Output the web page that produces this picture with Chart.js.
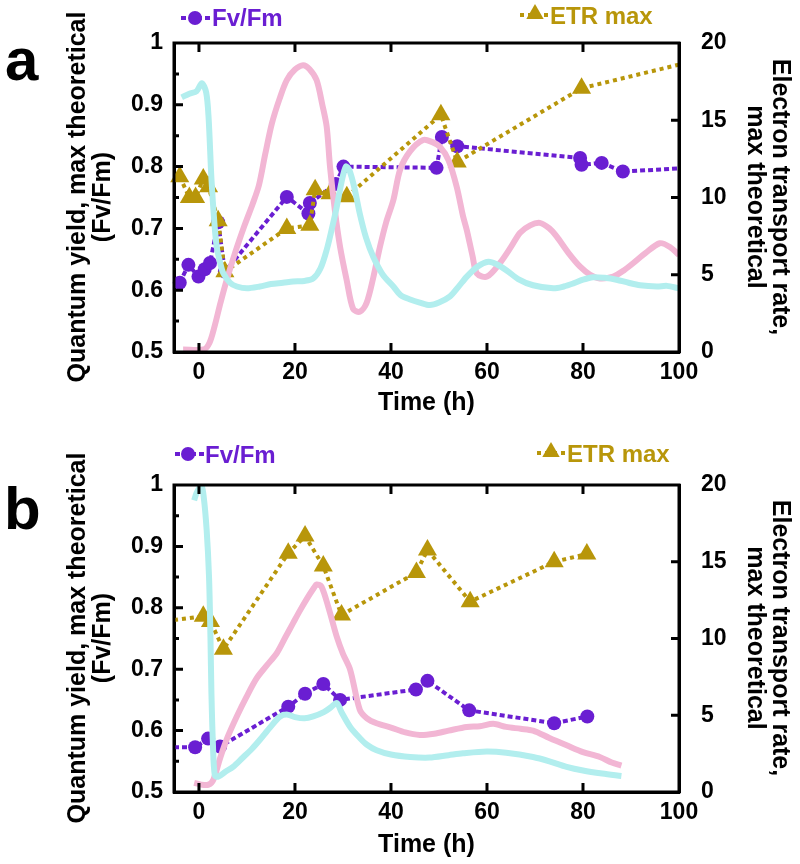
<!DOCTYPE html>
<html><head><meta charset="utf-8">
<script src="https://cdn.jsdelivr.net/npm/chart.js@4.4.0/dist/chart.umd.min.js"></script>
<style>
html,body{margin:0;padding:0;background:#fff;}
#wrap{position:relative;width:800px;height:864px;overflow:hidden;font-family:"Liberation Sans",Arial,sans-serif;font-weight:bold;}
.cv{position:absolute;left:0;width:800px;height:432px;}
.lbl{position:absolute;font-size:60px;line-height:60px;color:#000;}
.leg{position:absolute;font-size:24px;line-height:24px;white-space:nowrap;}
.sym{position:absolute;}
.yt{position:absolute;width:440px;height:50px;font-size:25px;line-height:25px;text-align:center;color:#000;white-space:nowrap;}
</style></head>
<body>
<div id="wrap">
  <div class="cv" style="top:0"><canvas id="cA" width="800" height="432"></canvas></div>
  <div class="cv" style="top:432px"><canvas id="cB" width="800" height="432"></canvas></div>

  <div class="lbl" style="left:5px;top:30px">a</div>
  <div class="lbl" style="left:4px;top:479px">b</div>

  <svg class="sym" style="left:181px;top:10px" width="30" height="16"><line x1="0" y1="8" x2="30" y2="8" stroke="#6a1ed2" stroke-width="4" stroke-dasharray="5 3"/><circle cx="14" cy="8" r="7" fill="#6a1ed2"/></svg>
  <div class="leg" style="left:212px;top:6px;color:#6a1ed2">Fv/Fm</div>
  <svg class="sym" style="left:520px;top:1px" width="30" height="22"><line x1="0" y1="14" x2="30" y2="14" stroke="#b8960a" stroke-width="4" stroke-dasharray="4 4"/><polygon points="15,3 23.7,18 6.3,18" fill="#b8960a"/></svg>
  <div class="leg" style="left:550px;top:4px;color:#b8960a">ETR max</div>

  <svg class="sym" style="left:175px;top:446px" width="30" height="16"><line x1="0" y1="8" x2="30" y2="8" stroke="#6a1ed2" stroke-width="4" stroke-dasharray="5 3"/><circle cx="13" cy="8" r="7" fill="#6a1ed2"/></svg>
  <div class="leg" style="left:205px;top:443px;color:#6a1ed2">Fv/Fm</div>
  <svg class="sym" style="left:537px;top:439px" width="30" height="22"><line x1="0" y1="14" x2="30" y2="14" stroke="#b8960a" stroke-width="4" stroke-dasharray="4 4"/><polygon points="14,3 22.7,18 5.3,18" fill="#b8960a"/></svg>
  <div class="leg" style="left:567px;top:442px;color:#b8960a">ETR max</div>

  <div class="yt" style="left:-131px;top:172px;transform:rotate(-90deg)">Quantum yield, max theoretical<br>(Fv/Fm)</div>
  <div class="yt" style="left:549px;top:172px;transform:rotate(90deg)">Electron transport rate,<br>max theoretical</div>
  <div class="yt" style="left:-131px;top:613px;transform:rotate(-90deg)">Quantum yield, max theoretical<br>(Fv/Fm)</div>
  <div class="yt" style="left:549px;top:613px;transform:rotate(90deg)">Electron transport rate,<br>max theoretical</div>
</div>
<script>
// ---- tick definitions ----
const xTickValues = [0, 20, 40, 60, 80, 100];
const xTickLabels = ['0', '20', '40', '60', '80', '100'];
const fvTickValues = [0.5, 0.6, 0.7, 0.8, 0.9, 1];
const fvTickLabels = ['0.5', '0.6', '0.7', '0.8', '0.9', '1'];
const fvMinorTicks = [0.55, 0.65, 0.75, 0.85, 0.95];
const etrTickValues = [0, 5, 10, 15, 20];
const etrTickLabels = ['0', '5', '10', '15', '20'];

// ---- panel a ----
const fvA_t = [-4, -2.2, -0.1, 1.2, 2.3, 4.0, 5.4, 18.3, 22.8, 23.1, 28.5, 30.1, 49.5, 50.6, 53.8, 79.4, 79.7, 83.9, 88.3, 100];
const fvA_v = [0.612, 0.641, 0.622, 0.634, 0.644, 0.71, 0.63, 0.751, 0.724, 0.741, 0.772, 0.800, 0.798, 0.848, 0.833, 0.814, 0.803, 0.806, 0.792, 0.797];
const etrA_t = [-4, -2, -0.7, 0.9, 2.0, 4.0, 5.4, 18.3, 23.1, 24.2, 27.3, 30.8, 50.4, 53.8, 79.7, 100];
const etrA_v = [11.35, 10.0, 10.0, 11.2, 10.7, 8.5, 5.2, 8.0, 8.2, 10.5, 10.25, 10.05, 15.35, 12.3, 17.07, 18.6];
const pinkA_t = [-3.3, 1, 2.2, 3.2, 4.5, 5.8, 7.5, 9.5, 11.2, 12.5, 13.8, 15.2, 16.8, 18.3, 20, 21.7, 23, 24.5, 25.7, 26.6, 27.3, 28.3, 29.4, 30.8, 32.1, 33.5, 34.9, 36.3, 37.7, 39, 40.5, 41.9, 44, 46.7, 48.5, 50.2, 52, 53.7, 55, 55.8, 57, 57.9, 60, 62.7, 65, 66.9, 69, 71, 73, 74.5, 77, 79.4, 81.5, 83.5, 86.3, 88.5, 90.5, 93, 96, 98.1, 100];
const pinkA_v = [0.504, 0.504, 0.515, 0.54, 0.58, 0.617, 0.66, 0.705, 0.74, 0.77, 0.82, 0.87, 0.91, 0.94, 0.957, 0.964, 0.958, 0.94, 0.9, 0.865, 0.8, 0.73, 0.67, 0.615, 0.57, 0.565, 0.579, 0.62, 0.67, 0.71, 0.746, 0.795, 0.825, 0.843, 0.84, 0.832, 0.81, 0.767, 0.72, 0.697, 0.655, 0.627, 0.622, 0.644, 0.67, 0.693, 0.705, 0.709, 0.7, 0.687, 0.66, 0.638, 0.625, 0.619, 0.622, 0.632, 0.644, 0.66, 0.676, 0.67, 0.657];
const cyanA_t = [-3.6, -2, -0.5, 0.6, 1.5, 2.0, 2.6, 3.2, 3.7, 4.4, 5.1, 6.5, 7.9, 10, 12.7, 15, 17.5, 19.6, 22, 23.8, 25.3, 26.6, 27.7, 28.7, 29.7, 30.6, 31.3, 32.4, 33.5, 34.8, 36.3, 38.3, 40.5, 42, 44, 46, 48.1, 50, 52.3, 54, 55.8, 58, 60.3, 62, 64.1, 66.5, 69.6, 73.8, 76, 78, 80, 82.1, 84.5, 87, 89.5, 91.9, 95.4, 97.5, 100];
const cyanA_v = [0.912, 0.918, 0.922, 0.935, 0.92, 0.88, 0.78, 0.71, 0.67, 0.645, 0.627, 0.612, 0.606, 0.603, 0.606, 0.61, 0.612, 0.614, 0.615, 0.619, 0.635, 0.665, 0.70, 0.735, 0.775, 0.80, 0.795, 0.765, 0.724, 0.685, 0.654, 0.625, 0.606, 0.592, 0.585, 0.58, 0.576, 0.58, 0.59, 0.605, 0.622, 0.638, 0.646, 0.642, 0.632, 0.618, 0.608, 0.603, 0.606, 0.611, 0.617, 0.621, 0.62, 0.617, 0.612, 0.608, 0.606, 0.607, 0.603];

// ---- panel b ----
const fvB_t = [-5.2, -0.8, 1.9, 4.4, 18.6, 22.1, 25.9, 29.4, 45.2, 47.6, 56.3, 74.0, 80.9];
const fvB_v = [0.573, 0.573, 0.587, 0.574, 0.639, 0.660, 0.676, 0.650, 0.667, 0.681, 0.633, 0.612, 0.623];
const etrB_t = [-5.2, 0.9, 2.4, 5.1, 18.6, 22.1, 25.9, 29.7, 45.3, 47.6, 56.5, 74.0, 80.8];
const etrB_v = [11.2, 11.45, 11.1, 9.3, 15.55, 16.68, 14.72, 11.53, 14.3, 15.77, 12.4, 15.0, 15.5];
const pinkB_t = [-1, 0.5, 2, 3, 4.4, 6, 8, 9.9, 12, 14, 16.2, 18, 19.6, 21, 22.5, 24, 24.5, 25.5, 27, 28.7, 30, 31.5, 33.5, 35, 37, 40, 43, 46, 49, 52, 55.8, 58.5, 61.3, 64, 67, 69.6, 73, 76.6, 80, 83.5, 86, 88];
const pinkB_v = [0.515, 0.512, 0.512, 0.52, 0.555, 0.59, 0.625, 0.655, 0.685, 0.705, 0.726, 0.752, 0.775, 0.795, 0.815, 0.833, 0.838, 0.835, 0.8, 0.753, 0.725, 0.699, 0.634, 0.62, 0.612, 0.605, 0.597, 0.593, 0.595, 0.6, 0.606, 0.607, 0.611, 0.606, 0.603, 0.6, 0.588, 0.576, 0.565, 0.557, 0.548, 0.543];
const cyanB_t = [-1, -0.5, 0.5, 1.0, 1.6, 2.1, 2.4, 2.6, 2.9, 3.3, 4, 5.5, 7.1, 9, 11, 12.7, 14.8, 16.9, 18.5, 20, 22, 23.8, 26, 27.5, 28.7, 29.7, 31.5, 33.5, 35, 37, 40, 44, 48, 52, 55, 59.9, 64, 69.6, 73, 76.6, 80, 84, 88];
const cyanB_v = [0.975, 0.987, 1.0, 0.98, 0.927, 0.85, 0.75, 0.66, 0.58, 0.527, 0.525, 0.533, 0.541, 0.555, 0.57, 0.585, 0.605, 0.623, 0.626, 0.622, 0.62, 0.623, 0.63, 0.638, 0.645, 0.63, 0.606, 0.588, 0.577, 0.568, 0.561, 0.557, 0.556, 0.56, 0.563, 0.566, 0.564, 0.557, 0.55, 0.541, 0.535, 0.53, 0.526];

const PURPLE = '#6a1ed2', GOLD = '#b8960a', PINK = '#f2b6d4', CYAN = '#b2eeee';
const X_MIN = -5.2, X_MAX = 100;

const zip = (t, v) => t.map((x, i) => ({x: x, y: v[i]}));
const edgeRadius = r => ctx => (ctx.raw && (ctx.raw.x <= X_MIN || ctx.raw.x >= X_MAX)) ? 0 : r;

Chart.defaults.font.family = "'Liberation Sans', Arial, sans-serif";
Chart.defaults.font.weight = 'bold';
Chart.defaults.color = '#000';

const framePlugin = {
  id: 'frame',
  afterDatasetsDraw(chart) {
    const {ctx, chartArea: {left, right, top, bottom}, scales: {x, yL, yR}} = chart;
    ctx.save();
    ctx.strokeStyle = '#000';
    ctx.lineWidth = 3;
    ctx.lineCap = 'butt';
    ctx.beginPath();
    ctx.rect(left, top, right - left, bottom - top);
    xTickValues.forEach(v => {
      const px = x.getPixelForValue(v);
      if (px > left + 2 && px < right - 2) {
        ctx.moveTo(px, bottom); ctx.lineTo(px, bottom - 9);
        ctx.moveTo(px, top); ctx.lineTo(px, top + 9);
      }
    });
    fvTickValues.forEach(v => {
      const py = yL.getPixelForValue(v);
      if (py > top + 2 && py < bottom - 2) { ctx.moveTo(left, py); ctx.lineTo(left + 9, py); }
    });
    fvMinorTicks.forEach(v => {
      const py = yL.getPixelForValue(v);
      ctx.moveTo(left, py); ctx.lineTo(left + 5, py);
    });
    etrTickValues.forEach(v => {
      const py = yR.getPixelForValue(v);
      if (py > top + 2 && py < bottom - 2) { ctx.moveTo(right, py); ctx.lineTo(right - 8, py); }
    });
    ctx.stroke();
    ctx.restore();
  }
};

function makeChart(id, topPad, xHeight, titlePadBottom, fv, etr, pink, cyan) {
  return new Chart(document.getElementById(id), {
    type: 'line',
    data: {
      datasets: [
        {data: cyan, yAxisID: 'yL', borderColor: CYAN, borderWidth: 6, pointRadius: 0, tension: 0.3, fill: false},
        {data: pink, yAxisID: 'yL', borderColor: PINK, borderWidth: 6, pointRadius: 0, tension: 0.3, fill: false},
        {data: etr, yAxisID: 'yR', borderColor: GOLD, backgroundColor: GOLD, borderWidth: 4, borderDash: [4, 4],
         pointStyle: 'triangle', pointRadius: edgeRadius(11), pointBorderWidth: 0, pointBackgroundColor: GOLD, tension: 0, fill: false,
         clip: {left: 10, right: 0, top: 10, bottom: 10}},
        {data: fv, yAxisID: 'yL', borderColor: PURPLE, backgroundColor: PURPLE, borderWidth: 4, borderDash: [5, 3],
         pointStyle: 'circle', pointRadius: edgeRadius(7), pointBorderWidth: 0, pointBackgroundColor: PURPLE, tension: 0, fill: false,
         clip: {left: 10, right: 0, top: 10, bottom: 10}}
      ]
    },
    options: {
      responsive: false,
      animation: false,
      events: [],
      layout: {padding: {top: topPad, left: 0, right: 0, bottom: 0}},
      plugins: {legend: {display: false}, tooltip: {enabled: false}},
      scales: {
        x: {
          type: 'linear', position: 'bottom', min: X_MIN, max: X_MAX,
          grid: {display: false, drawTicks: false},
          border: {display: true, color: '#000', width: 3},
          afterBuildTicks: s => { s.ticks = xTickValues.map(v => ({value: v})); },
          afterFit: s => { s.height = xHeight; },
          ticks: {autoSkip: false, maxRotation: 0, padding: 7, font: {size: 23, weight: 'bold'},
                  callback: (v, i) => xTickLabels[i]},
          title: {display: true, text: 'Time (h)', font: {size: 25, weight: 'bold', lineHeight: 1.0},
                  padding: {top: 0, bottom: titlePadBottom}}
        },
        yL: {
          type: 'linear', position: 'left', min: 0.5, max: 1,
          grid: {display: false, drawTicks: false},
          border: {display: true, color: '#000', width: 3},
          afterBuildTicks: s => { s.ticks = fvTickValues.map(v => ({value: v})); },
          afterFit: s => { s.width = 174; },
          ticks: {autoSkip: false, padding: 11, font: {size: 23, weight: 'bold'},
                  callback: (v, i) => fvTickLabels[i]}
        },
        yR: {
          type: 'linear', position: 'right', min: 0, max: 20,
          grid: {display: false, drawTicks: false},
          border: {display: true, color: '#000', width: 3},
          afterBuildTicks: s => { s.ticks = etrTickValues.map(v => ({value: v})); },
          afterFit: s => { s.width = 121; },
          ticks: {autoSkip: false, padding: 22, font: {size: 23, weight: 'bold'},
                  callback: (v, i) => etrTickLabels[i]}
        }
      }
    },
    plugins: [framePlugin]
  });
}

makeChart('cA', 43, 80, 16, zip(fvA_t, fvA_v), zip(etrA_t, etrA_v), zip(pinkA_t, pinkA_v), zip(cyanA_t, cyanA_v));
makeChart('cB', 53, 72, 6, zip(fvB_t, fvB_v), zip(etrB_t, etrB_v), zip(pinkB_t, pinkB_v), zip(cyanB_t, cyanB_v));
</script>
</body></html>
